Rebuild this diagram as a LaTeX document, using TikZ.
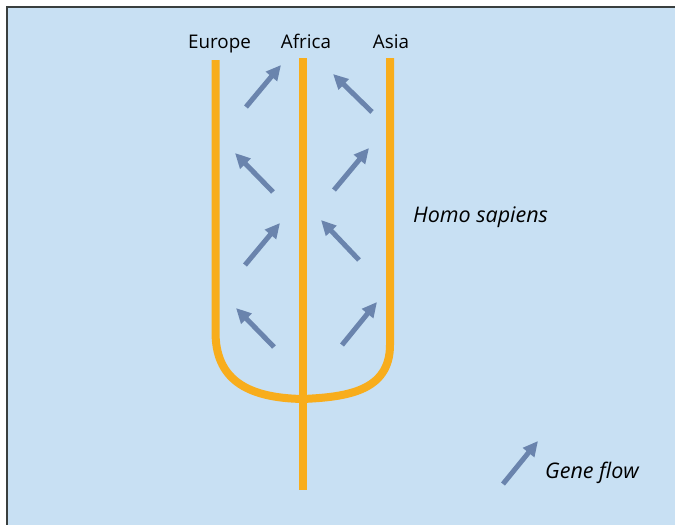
\documentclass[tikz,border=0pt]{standalone}
\usepackage{fontspec}
\setmainfont{Open Sans}
\usetikzlibrary{arrows.meta}
\definecolor{panelblue}{HTML}{C8E0F3}
\definecolor{lineage}{HTML}{F8AD1C}
\definecolor{flowblue}{HTML}{6A84AD}
\definecolor{frame}{HTML}{3A3F3F}
\tikzset{
  lineagepath/.style={draw=lineage, line width=8pt},
  flowarrow/.style={draw=flowblue, line width=5pt,
    -{Triangle[length=15pt,width=14pt]}},
  region/.style={font=\fontsize{18.8}{22}\selectfont, inner sep=0pt, anchor=base},
  caption/.style={font=\fontsize{21.5}{25}\selectfont\itshape, inner sep=0pt, anchor=base west},
}
\begin{document}
\begin{tikzpicture}[x=1pt,y=-1pt]
  \useasboundingbox (0,0) rectangle (675,525);
  \fill[white] (0,0) rectangle (675,525);
  % panel
  \fill[panelblue] (7,7) rectangle (676,526);
  \draw[frame, line width=1.5pt] (7,526) -- (7,7) -- (676,7);

  % region labels
  \node[region] (eu) at (219.5,48) {Europe};
  \node[region] (af) at (306,48) {Africa};
  \node[region] (as) at (391,48) {Asia};
  \node[caption] (hs) at (413,222) {Homo sapiens};
  \node[caption] (gf) at (545,478) {Gene flow};

  % lineages
  \coordinate (euTop) at (215.5,60);
  \coordinate (euBend) at (215.5,332);
  \coordinate (afTop) at (303,58);
  \coordinate (afBot) at (303,490);
  \coordinate (root) at (303,399);
  \coordinate (asTop) at (390,58);
  \coordinate (asBend) at (390,345);

  \draw[lineagepath] (afTop) -- (afBot);
  \draw[lineagepath, line join=round] (euTop) -- (euBend)
     .. controls (215.5,378) and (245,398) .. (root);
  \draw[lineagepath, line join=round] (asTop) -- (asBend)
     .. controls (390,392) and (345,397) .. (root);

  % gene flow between Europe and Africa
  \coordinate (a1s) at (246,107); \coordinate (a1e) at (281,65);
  \coordinate (a2s) at (273,192); \coordinate (a2e) at (235,153);
  \coordinate (a3s) at (245,265); \coordinate (a3e) at (280,223);
  \coordinate (a4s) at (274,347); \coordinate (a4e) at (236,308);
  % gene flow between Africa and Asia
  \coordinate (b1s) at (372,112); \coordinate (b1e) at (333,74);
  \coordinate (b2s) at (334,190); \coordinate (b2e) at (369,148);
  \coordinate (b3s) at (359,260); \coordinate (b3e) at (321,220);
  \coordinate (b4s) at (342,345); \coordinate (b4e) at (377,302);
  % legend arrow
  \coordinate (ls) at (503,484); \coordinate (le) at (538,441);

  \foreach \s/\e in {a1s/a1e,a2s/a2e,a3s/a3e,a4s/a4e,b1s/b1e,b2s/b2e,b3s/b3e,b4s/b4e,ls/le}
    \draw[flowarrow] (\s) -- (\e);
\end{tikzpicture}
\end{document}
